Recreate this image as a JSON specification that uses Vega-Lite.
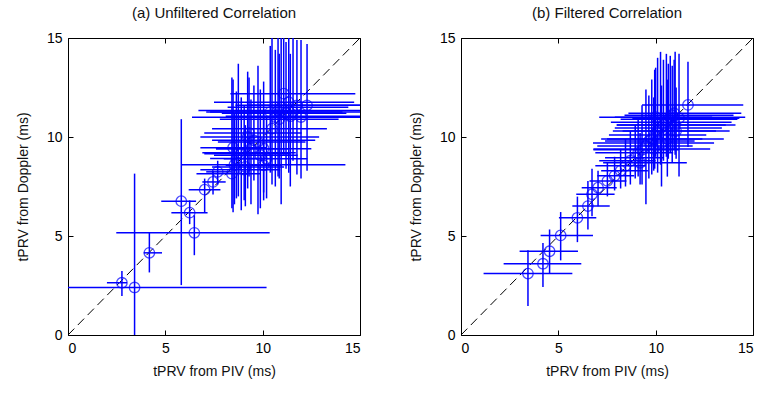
{
  "$schema": "https://vega.github.io/schema/vega-lite/v6.json",
  "padding": {"left": 15, "top": 5, "right": 5, "bottom": 5},
  "background": "white",
  "config": {
    "font": "Liberation Sans",
    "view": {"stroke": "black", "strokeWidth": 1},
    "axis": {
      "grid": false,
      "domain": false,
      "tickSize": -5,
      "tickColor": "black",
      "labelFontSize": 14,
      "labelColor": "black",
      "labelPadding": 11,
      "titleFontSize": 14,
      "titleFontWeight": "normal",
      "titleColor": "#111",
      "tickCount": 4
    },
    "axisY": {"titlePadding": 16},
    "axisX": {"titlePadding": 9},
    "title": {"fontSize": 15, "fontWeight": "normal", "color": "#111", "offset": 10}
  },
  "datasets": {
    "diag": [{"x": 0, "y": 0}, {"x": 15, "y": 15}],
    "a": [
      {"x": 2.77, "y": 2.64, "xlo": 2.0, "xhi": 3.03, "ylo": 1.97, "yhi": 3.23},
      {"x": 3.42, "y": 2.40, "xlo": 0, "xhi": 10.2, "ylo": 0, "yhi": 8.15},
      {"x": 4.18, "y": 4.15, "xlo": 3.89, "xhi": 4.83, "ylo": 3.16, "yhi": 5.16},
      {"x": 5.82, "y": 6.76, "xlo": 4.79, "xhi": 6.58, "ylo": 2.52, "yhi": 10.9},
      {"x": 6.25, "y": 6.18, "xlo": 5.31, "xhi": 7.17, "ylo": 5.6, "yhi": 6.8},
      {"x": 6.49, "y": 5.16, "xlo": 2.48, "xhi": 10.36, "ylo": 4.03, "yhi": 6.05},
      {"x": 7.02, "y": 7.34, "xlo": 6.2, "xhi": 7.83, "ylo": 6.2, "yhi": 7.9},
      {"x": 7.45, "y": 7.73, "xlo": 6.9, "xhi": 8.1, "ylo": 7.1, "yhi": 8.3},
      {"x": 7.69, "y": 8.24, "xlo": 7.1, "xhi": 8.4, "ylo": 7.6, "yhi": 8.8},
      {"x": 8.42, "y": 8.15, "xlo": 6.6, "xhi": 9.9, "ylo": 6.4, "yhi": 13.0},
      {"x": 8.48, "y": 9.46, "xlo": 6.8, "xhi": 10.2, "ylo": 6.2, "yhi": 12.9},
      {"x": 8.55, "y": 8.6, "xlo": 5.82, "xhi": 14.25, "ylo": 6.6, "yhi": 11.2},
      {"x": 8.65, "y": 8.91, "xlo": 7.3, "xhi": 10.3, "ylo": 6.9, "yhi": 12.3},
      {"x": 8.75, "y": 9.2, "xlo": 6.9, "xhi": 11.7, "ylo": 7.0, "yhi": 13.7},
      {"x": 8.9, "y": 9.16, "xlo": 7.0, "xhi": 11.4, "ylo": 6.3, "yhi": 12.0},
      {"x": 9.05, "y": 8.35, "xlo": 6.8, "xhi": 10.9, "ylo": 6.8, "yhi": 11.6},
      {"x": 9.11, "y": 8.49, "xlo": 7.4, "xhi": 11.1, "ylo": 6.5, "yhi": 10.6},
      {"x": 9.23, "y": 10.0, "xlo": 6.8, "xhi": 12.9, "ylo": 7.4, "yhi": 13.3},
      {"x": 9.4, "y": 9.41, "xlo": 7.6, "xhi": 11.3, "ylo": 6.6, "yhi": 11.9},
      {"x": 9.55, "y": 9.83, "xlo": 7.4, "xhi": 12.7, "ylo": 7.8, "yhi": 12.6},
      {"x": 9.76, "y": 9.75, "xlo": 7.7, "xhi": 12.2, "ylo": 6.1, "yhi": 13.6},
      {"x": 9.88, "y": 9.08, "xlo": 7.5, "xhi": 11.8, "ylo": 6.4, "yhi": 12.4},
      {"x": 10.05, "y": 9.41, "xlo": 7.6, "xhi": 12.5, "ylo": 6.8, "yhi": 12.8},
      {"x": 10.05, "y": 8.57, "xlo": 8.1, "xhi": 11.0, "ylo": 7.2, "yhi": 11.4},
      {"x": 10.2, "y": 8.9, "xlo": 8.0, "xhi": 12.3, "ylo": 6.9, "yhi": 11.0},
      {"x": 10.39, "y": 11.26, "xlo": 7.1, "xhi": 14.1, "ylo": 8.2, "yhi": 14.6},
      {"x": 10.48, "y": 10.42, "xlo": 7.4, "xhi": 13.3, "ylo": 7.6, "yhi": 15.0},
      {"x": 10.65, "y": 11.0, "xlo": 6.37, "xhi": 15.0, "ylo": 7.5, "yhi": 14.4},
      {"x": 10.79, "y": 11.34, "xlo": 6.7, "xhi": 15.0, "ylo": 8.0, "yhi": 15.0},
      {"x": 10.95, "y": 11.5, "xlo": 8.2, "xhi": 14.4, "ylo": 6.6, "yhi": 15.0},
      {"x": 11.08, "y": 12.19, "xlo": 8.34, "xhi": 14.76, "ylo": 9.1, "yhi": 15.0},
      {"x": 11.2, "y": 11.2, "xlo": 7.9, "xhi": 14.3, "ylo": 8.4, "yhi": 14.8},
      {"x": 11.34, "y": 11.76, "xlo": 7.5, "xhi": 14.7, "ylo": 8.2, "yhi": 15.0},
      {"x": 11.42, "y": 11.05, "xlo": 8.1, "xhi": 15.0, "ylo": 7.5, "yhi": 14.2},
      {"x": 11.56, "y": 11.26, "xlo": 7.3, "xhi": 15.0, "ylo": 8.8, "yhi": 15.0},
      {"x": 11.76, "y": 11.6, "xlo": 8.6, "xhi": 15.0, "ylo": 8.1, "yhi": 14.9},
      {"x": 11.97, "y": 11.01, "xlo": 8.8, "xhi": 15.0, "ylo": 7.9, "yhi": 14.9},
      {"x": 12.28, "y": 11.6, "xlo": 9.2, "xhi": 15.0, "ylo": 8.3, "yhi": 14.7},
      {"x": 10.85, "y": 10.9, "xlo": 7.8, "xhi": 13.9, "ylo": 7.9, "yhi": 14.2},
      {"x": 9.3, "y": 10.2, "xlo": 7.0, "xhi": 12.0, "ylo": 8.0, "yhi": 13.0}
    ],
    "b": [
      {"x": 3.44, "y": 3.10, "xlo": 1.16, "xhi": 5.72, "ylo": 1.47, "yhi": 4.28},
      {"x": 4.21, "y": 3.60, "xlo": 2.19, "xhi": 6.18, "ylo": 2.42, "yhi": 4.65},
      {"x": 4.55, "y": 4.23, "xlo": 3.01, "xhi": 6.01, "ylo": 3.10, "yhi": 5.33},
      {"x": 5.12, "y": 5.03, "xlo": 4.09, "xhi": 6.78, "ylo": 3.77, "yhi": 6.21},
      {"x": 5.98, "y": 5.92, "xlo": 5.03, "xhi": 6.95, "ylo": 4.69, "yhi": 6.99},
      {"x": 6.52, "y": 6.51, "xlo": 5.72, "xhi": 7.64, "ylo": 5.33, "yhi": 7.78},
      {"x": 6.73, "y": 7.11, "xlo": 5.92, "xhi": 7.89, "ylo": 6.0, "yhi": 8.4},
      {"x": 7.04, "y": 7.44, "xlo": 6.2, "xhi": 8.0, "ylo": 6.5, "yhi": 8.3},
      {"x": 7.52, "y": 7.78, "xlo": 6.6, "xhi": 8.5, "ylo": 7.0, "yhi": 8.7},
      {"x": 7.89, "y": 8.04, "xlo": 7.0, "xhi": 8.9, "ylo": 7.3, "yhi": 9.0},
      {"x": 8.2, "y": 8.3, "xlo": 7.2, "xhi": 9.6, "ylo": 7.4, "yhi": 9.4},
      {"x": 8.45, "y": 8.55, "xlo": 6.9, "xhi": 9.5, "ylo": 7.5, "yhi": 9.9},
      {"x": 8.7, "y": 8.8, "xlo": 7.1, "xhi": 10.0, "ylo": 7.6, "yhi": 10.3},
      {"x": 8.95, "y": 8.95, "xlo": 7.4, "xhi": 10.4, "ylo": 7.9, "yhi": 10.6},
      {"x": 9.1, "y": 9.2, "xlo": 6.9, "xhi": 10.9, "ylo": 8.0, "yhi": 11.0},
      {"x": 9.3, "y": 9.35, "xlo": 6.8, "xhi": 11.2, "ylo": 7.6, "yhi": 11.6},
      {"x": 9.5, "y": 9.55, "xlo": 7.0, "xhi": 11.9, "ylo": 6.6, "yhi": 12.4},
      {"x": 9.65, "y": 9.8, "xlo": 7.4, "xhi": 12.0, "ylo": 7.9, "yhi": 12.1},
      {"x": 9.8, "y": 9.9, "xlo": 7.2, "xhi": 12.4, "ylo": 8.1, "yhi": 12.9},
      {"x": 9.95, "y": 10.1, "xlo": 7.6, "xhi": 12.6, "ylo": 8.4, "yhi": 13.4},
      {"x": 10.1, "y": 10.3, "xlo": 7.8, "xhi": 13.1, "ylo": 8.2, "yhi": 14.0},
      {"x": 10.25, "y": 10.45, "xlo": 7.9, "xhi": 13.4, "ylo": 8.6, "yhi": 14.3},
      {"x": 10.4, "y": 10.6, "xlo": 8.0, "xhi": 13.6, "ylo": 8.8, "yhi": 13.9},
      {"x": 10.55, "y": 10.75, "xlo": 7.7, "xhi": 13.9, "ylo": 9.0, "yhi": 14.2},
      {"x": 10.65, "y": 10.9, "xlo": 8.2, "xhi": 14.2, "ylo": 8.9, "yhi": 13.7},
      {"x": 10.75, "y": 11.0, "xlo": 7.9, "xhi": 14.6, "ylo": 9.2, "yhi": 14.1},
      {"x": 10.85, "y": 11.1, "xlo": 8.4, "xhi": 14.0, "ylo": 8.7, "yhi": 13.6},
      {"x": 10.95, "y": 11.2, "xlo": 8.6, "xhi": 14.4, "ylo": 9.4, "yhi": 13.9},
      {"x": 11.05, "y": 10.3, "xlo": 8.3, "xhi": 13.8, "ylo": 8.9, "yhi": 12.5},
      {"x": 11.2, "y": 10.95, "xlo": 8.8, "xhi": 14.3, "ylo": 8.0, "yhi": 14.2},
      {"x": 11.66, "y": 11.62, "xlo": 9.3, "xhi": 14.5, "ylo": 9.5, "yhi": 13.8},
      {"x": 10.3, "y": 9.7, "xlo": 6.78, "xhi": 13.0, "ylo": 7.5, "yhi": 12.6},
      {"x": 9.9, "y": 9.4, "xlo": 6.8, "xhi": 12.8, "ylo": 8.3, "yhi": 12.0},
      {"x": 10.6, "y": 9.9, "xlo": 7.5, "xhi": 13.5, "ylo": 8.0, "yhi": 12.9},
      {"x": 11.0, "y": 10.6, "xlo": 8.0, "xhi": 14.1, "ylo": 9.1, "yhi": 14.3},
      {"x": 9.2, "y": 8.7, "xlo": 7.3, "xhi": 11.6, "ylo": 7.6, "yhi": 10.2},
      {"x": 10.0, "y": 11.0, "xlo": 7.1, "xhi": 12.9, "ylo": 9.0, "yhi": 13.5}
    ]
  },
  "spacing": 45,
  "hconcat": [
    {
      "title": "(a) Unfiltered Correlation",
      "width": 292,
      "height": 297,
      "resolve": {"axis": {"x": "independent", "y": "independent"}},
      "layer": [
        {
          "data": {"name": "diag"},
          "mark": {"type": "line", "color": "black", "strokeDash": [9, 5], "strokeWidth": 1},
          "encoding": {
            "x": {"field": "x", "type": "quantitative", "scale": {"domain": [0, 15], "nice": false}, "axis": {"orient": "top", "labels": false, "title": null, "values": [0, 5, 10, 15]}},
            "y": {"field": "y", "type": "quantitative", "scale": {"domain": [0, 15], "nice": false}, "axis": {"orient": "right", "labels": false, "title": null, "values": [0, 5, 10, 15]}}
          }
        },
        {
          "data": {"name": "a"},
          "mark": {"type": "rule", "color": "#0000ff", "strokeWidth": 1.5},
          "encoding": {
            "x": {"field": "xlo", "type": "quantitative", "axis": {"title": "tPRV from PIV (ms)", "values": [0, 5, 10, 15]}},
            "x2": {"field": "xhi"},
            "y": {"field": "y", "type": "quantitative", "axis": {"title": "tPRV from Doppler (ms)", "values": [0, 5, 10, 15]}}
          }
        },
        {
          "data": {"name": "a"},
          "mark": {"type": "rule", "color": "#0000ff", "strokeWidth": 1.5},
          "encoding": {
            "x": {"field": "x", "type": "quantitative", "axis": null},
            "y": {"field": "ylo", "type": "quantitative", "axis": null},
            "y2": {"field": "yhi"}
          }
        },
        {
          "data": {"name": "a"},
          "mark": {"type": "point", "shape": "circle", "filled": false, "color": "#0000ff", "size": 110, "strokeWidth": 1.3},
          "encoding": {
            "x": {"field": "x", "type": "quantitative", "axis": null},
            "y": {"field": "y", "type": "quantitative", "axis": null}
          }
        }
      ]
    },
    {
      "title": "(b) Filtered Correlation",
      "width": 292,
      "height": 297,
      "resolve": {"axis": {"x": "independent", "y": "independent"}},
      "layer": [
        {
          "data": {"name": "diag"},
          "mark": {"type": "line", "color": "black", "strokeDash": [9, 5], "strokeWidth": 1},
          "encoding": {
            "x": {"field": "x", "type": "quantitative", "scale": {"domain": [0, 15], "nice": false}, "axis": {"orient": "top", "labels": false, "title": null, "values": [0, 5, 10, 15]}},
            "y": {"field": "y", "type": "quantitative", "scale": {"domain": [0, 15], "nice": false}, "axis": {"orient": "right", "labels": false, "title": null, "values": [0, 5, 10, 15]}}
          }
        },
        {
          "data": {"name": "b"},
          "mark": {"type": "rule", "color": "#0000ff", "strokeWidth": 1.5},
          "encoding": {
            "x": {"field": "xlo", "type": "quantitative", "axis": {"title": "tPRV from PIV (ms)", "values": [0, 5, 10, 15]}},
            "x2": {"field": "xhi"},
            "y": {"field": "y", "type": "quantitative", "axis": {"title": "tPRV from Doppler (ms)", "values": [0, 5, 10, 15]}}
          }
        },
        {
          "data": {"name": "b"},
          "mark": {"type": "rule", "color": "#0000ff", "strokeWidth": 1.5},
          "encoding": {
            "x": {"field": "x", "type": "quantitative", "axis": null},
            "y": {"field": "ylo", "type": "quantitative", "axis": null},
            "y2": {"field": "yhi"}
          }
        },
        {
          "data": {"name": "b"},
          "mark": {"type": "point", "shape": "circle", "filled": false, "color": "#0000ff", "size": 110, "strokeWidth": 1.3},
          "encoding": {
            "x": {"field": "x", "type": "quantitative", "axis": null},
            "y": {"field": "y", "type": "quantitative", "axis": null}
          }
        }
      ]
    }
  ]
}
